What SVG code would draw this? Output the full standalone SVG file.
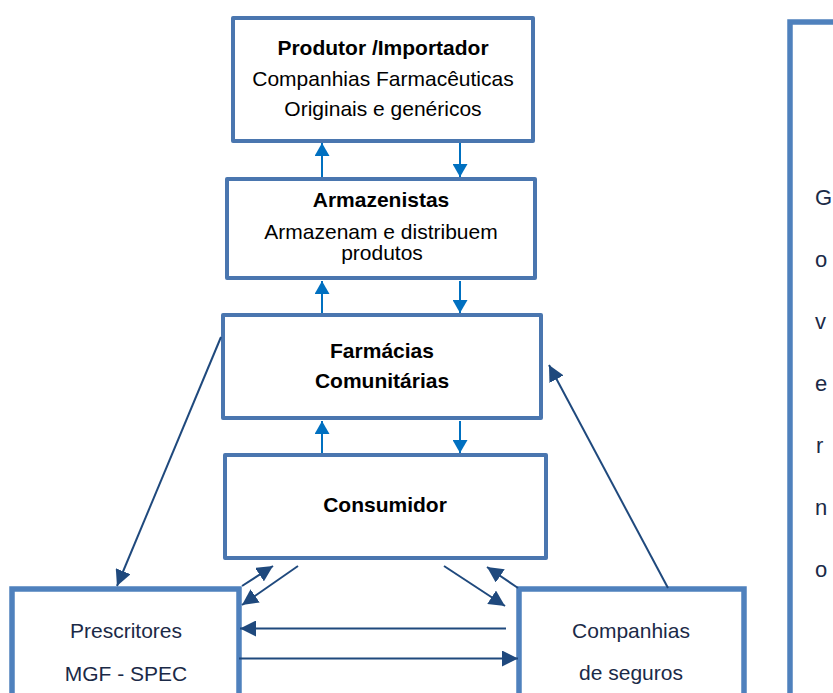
<svg xmlns="http://www.w3.org/2000/svg" width="833" height="693" viewBox="0 0 833 693">
  <style>
    .box-top { fill: #ffffff; stroke: #4A76AF; stroke-width: 4; stroke-linejoin: round; }
    .box-low { fill: #ffffff; stroke: #4F81BD; stroke-width: 5.5; }
    text { font-family: "Liberation Sans", Arial, sans-serif; font-size: 21px; }
    .t { fill: #000000; text-anchor: middle; }
    .b { font-weight: bold; }
    .n { fill: #1B2A47; text-anchor: middle; }
    .g { fill: #1B2A47; font-size: 22px; }
    .flow { stroke: #0070C0; stroke-width: 2; fill: none; marker-end: url(#headBlue); }
    .rel { stroke: #1F497D; stroke-width: 2; fill: none; marker-end: url(#headNavy); }
  </style>
  <defs>
    <marker id="headBlue" markerUnits="userSpaceOnUse" markerWidth="13" markerHeight="15" refX="13" refY="7.5" orient="auto">
      <path d="M0,0 L13,7.5 L0,15 Z" fill="#0070C0"/>
    </marker>
    <marker id="headNavy" markerUnits="userSpaceOnUse" markerWidth="16" markerHeight="16" refX="16" refY="8" orient="auto">
      <path d="M0,0 L16,8 L0,16 Z" fill="#1F497D"/>
    </marker>
  </defs>

  <rect width="833" height="693" fill="#ffffff"/>

  <!-- supply chain boxes -->
  <g id="produtor">
    <rect class="box-top" x="233" y="18" width="300" height="123"/>
    <text class="t b" x="383" y="55">Produtor /Importador</text>
    <text class="t" x="383" y="86">Companhias Farmacêuticas</text>
    <text class="t" x="383" y="116">Originais e genéricos</text>
  </g>

  <g id="armazenistas">
    <rect class="box-top" x="227" y="179" width="308" height="99"/>
    <text class="t b" x="381" y="207">Armazenistas</text>
    <text class="t" x="381" y="239">Armazenam e distribuem</text>
    <text class="t" x="382" y="260">produtos</text>
  </g>

  <g id="farmacias">
    <rect class="box-top" x="223" y="315" width="318" height="103"/>
    <text class="t b" x="382" y="358">Farmácias</text>
    <text class="t b" x="382" y="388">Comunitárias</text>
  </g>

  <g id="consumidor">
    <rect class="box-top" x="225" y="455" width="321" height="103"/>
    <text class="t b" x="385" y="512">Consumidor</text>
  </g>

  <g id="prescritores">
    <rect class="box-low" x="12" y="589" width="227" height="140"/>
    <text class="n" x="126" y="638">Prescritores</text>
    <text class="n" x="126" y="681">MGF - SPEC</text>
  </g>

  <g id="seguros">
    <rect class="box-low" x="519" y="589" width="225" height="140"/>
    <text class="n" x="631" y="638">Companhias</text>
    <text class="n" x="631" y="680">de seguros</text>
  </g>

  <!-- vertical "Governo" label, one letter per line -->
  <g id="governo">
    <rect class="box-low" x="790" y="22" width="120" height="700"/>
    <text class="g" x="815" y="205">G</text>
    <text class="g" x="815" y="267">o</text>
    <text class="g" x="815" y="329">v</text>
    <text class="g" x="815" y="391">e</text>
    <text class="g" x="816" y="453">r</text>
    <text class="g" x="815" y="515">n</text>
    <text class="g" x="815" y="577">o</text>
  </g>

  <!-- connectors -->
  <g id="connectors">
    <line class="flow" x1="322" y1="177" x2="322" y2="143"/>
    <line class="flow" x1="460" y1="143" x2="460" y2="177"/>
    <line class="flow" x1="322" y1="313" x2="322" y2="281"/>
    <line class="flow" x1="460" y1="281" x2="460" y2="313"/>
    <line class="flow" x1="322" y1="453" x2="322" y2="421"/>
    <line class="flow" x1="460" y1="421" x2="460" y2="453"/>

    <line class="rel" x1="221" y1="337" x2="117" y2="586"/>
    <line class="rel" x1="668" y1="588" x2="549" y2="365"/>
    <line class="rel" x1="242" y1="586" x2="273" y2="566"/>
    <line class="rel" x1="298" y1="566" x2="242" y2="605"/>
    <line class="rel" x1="444" y1="566" x2="505" y2="606"/>
    <line class="rel" x1="518" y1="588" x2="487" y2="567"/>
    <line class="rel" x1="506" y1="628.5" x2="240" y2="628.5"/>
    <line class="rel" x1="239" y1="658.5" x2="518" y2="658.5"/>
  </g>
</svg>
